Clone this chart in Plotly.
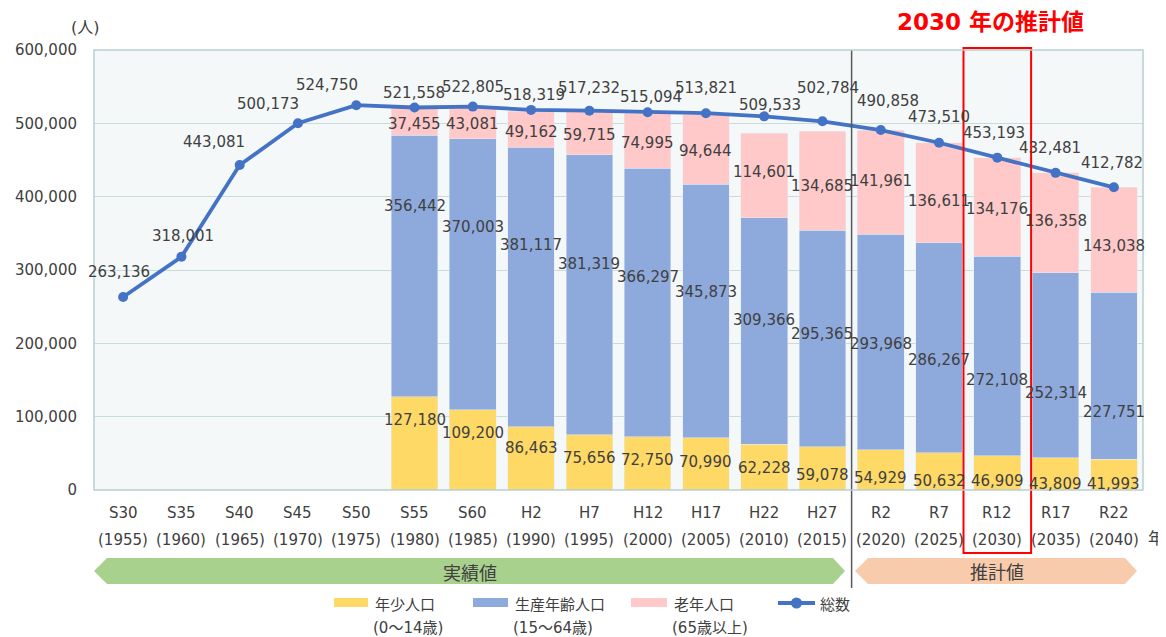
import plotly.graph_objects as go

# ---------------- data ----------------
categories = ["S30", "S35", "S40", "S45", "S50", "S55", "S60", "H2", "H7", "H12",
              "H17", "H22", "H27", "R2", "R7", "R12", "R17", "R22"]
years = ["(1955)", "(1960)", "(1965)", "(1970)", "(1975)", "(1980)", "(1985)", "(1990)",
         "(1995)", "(2000)", "(2005)", "(2010)", "(2015)", "(2020)", "(2025)", "(2030)",
         "(2035)", "(2040)"]
young = [None] * 5 + [127180, 109200, 86463, 75656, 72750, 70990, 62228, 59078,
                      54929, 50632, 46909, 43809, 41993]
working = [None] * 5 + [356442, 370003, 381117, 381319, 366297, 345873, 309366, 295365,
                        293968, 286267, 272108, 252314, 227751]
elderly = [None] * 5 + [37455, 43081, 49162, 59715, 74995, 94644, 114601, 134685,
                        141961, 136611, 134176, 136358, 143038]
total = [263136, 318001, 443081, 500173, 524750, 521558, 522805, 518319, 517232, 515094,
         513821, 509533, 502784, 490858, 473510, 453193, 432481, 412782]

# label placement (data units)
total_label_y = [297e3, 346e3, 474e3, 526e3, 552e3, 541e3, 549e3, 538e3, 548e3, 536e3,
                 548e3, 525e3, 548e3, 530e3, 509e3, 487e3, 466e3, 446e3]
total_label_dx = [-4, 2, -26, -30, -29, -1, 0, 3, 0, 3, 0, 6, 6, 7, 0, -3, -6, -2]
elderly_label_y = [None] * 5 + [499e3, 499e3, 488e3, 484e3, 473e3, 462e3, 434e3, 415e3,
                                421e3, 394e3, 383e3, 367e3, 333e3]
working_label_y = [None] * 5 + [387e3, 359e3, 334e3, 308e3, 290e3, 270e3, 232e3, 213e3,
                                199e3, 177e3, 150e3, 132e3, 106e3]
young_label_y = [None] * 5 + [95e3, 78e3, 57e3, 44e3, 41e3, 38e3, 30e3, 20e3,
                              16e3, 12e3, 12e3, 8e3, 8e3]

C_YOUNG = "#ffd966"
C_WORK = "#8eaadc"
C_OLD = "#ffc9c9"
C_LINE = "#4472c4"
TXT = "#404040"
NFONT = "DejaVu Sans"
JFONT = "Noto Sans CJK JP"
MFONT = NFONT + ", " + JFONT

W, H = 1166, 637
# on-screen plot area (page body adds an 8px offset)
SX0, SY0 = 94, 50
PW, PH = 1049, 440
OFF = 8
L, T = SX0 - OFF, SY0 - OFF
R, B = W - L - PW, H - T - PH


def pxx(x):
    return (x - SX0) / PW


def pxy(y):
    return (SY0 + PH - y) / PH


fig = go.Figure()
fig.add_trace(go.Bar(x=categories, y=young, marker_color=C_YOUNG, name="年少人口"))
fig.add_trace(go.Bar(x=categories, y=working, marker_color=C_WORK, name="生産年齢人口"))
fig.add_trace(go.Bar(x=categories, y=elderly, marker_color=C_OLD, name="老年人口"))
fig.add_trace(go.Scatter(x=categories, y=total, mode="lines+markers", name="総数",
                         line=dict(color=C_LINE, width=3.8),
                         marker=dict(color=C_LINE, size=10)))

ann = []


def fmt(v):
    return f"{v:,}"


def pa(x, y, text, size=15, family=JFONT, xanchor="center", color=TXT):
    return dict(x=pxx(x), y=pxy(y), xref="paper", yref="paper", text=text,
                showarrow=False, xanchor=xanchor, yanchor="middle",
                font=dict(size=size, color=color, family=family))


for i, c in enumerate(categories):
    ann.append(dict(x=c, y=total_label_y[i], text=fmt(total[i]), showarrow=False,
                    xanchor="center", yanchor="middle",
                    xshift=total_label_dx[i], font=dict(size=15, color=TXT, family=NFONT)))
    for vals, ly in ((young, young_label_y), (working, working_label_y), (elderly, elderly_label_y)):
        if vals[i] is not None:
            ann.append(dict(x=c, y=ly[i], text=fmt(vals[i]), showarrow=False,
                            xanchor="center", yanchor="middle",
                            font=dict(size=15, color=TXT, family=NFONT)))
    # two-line category labels
    ann.append(dict(x=c, y=pxy(513), yref="paper", text=c, showarrow=False,
                    xanchor="center", yanchor="middle",
                    font=dict(size=15, color=TXT, family=NFONT)))
    ann.append(dict(x=c, y=pxy(540), yref="paper", text=years[i], showarrow=False,
                    xanchor="center", yanchor="middle",
                    font=dict(size=15, color=TXT, family=NFONT)))

ann += [
    pa(85, 27, "(人)", size=16, family=MFONT),
    pa(1156, 537, "年", size=16),
    pa(990, 22, "<b>2030 年の推計値</b>", size=23, family=MFONT, color="#ff0000"),
    pa(470, 572, "実績値", size=18),
    pa(997, 571, "推計値", size=18),
]

# legend (custom)
leg_items = [(334, 368, C_YOUNG, "年少人口", "(0〜14歳)"),
             (473, 508, C_WORK, "生産年齢人口", "(15〜64歳)"),
             (631, 667, C_OLD, "老年人口", "(65歳以上)")]
shapes = []
for x0, x1, col, t1, t2 in leg_items:
    shapes.append(dict(type="rect", xref="paper", yref="paper", x0=pxx(x0), x1=pxx(x1),
                       y0=pxy(607), y1=pxy(598), fillcolor=col, line=dict(width=0)))
    ann.append(pa(x1 + 5, 603, t1, size=15))
    ann[-1]["xanchor"] = "left"
    ann.append(pa(x1 + 3, 628, t2, size=15, family=MFONT))
    ann[-1]["xanchor"] = "left"
shapes.append(dict(type="line", xref="paper", yref="paper", x0=pxx(778), x1=pxx(815),
                   y0=pxy(603), y1=pxy(603), line=dict(color=C_LINE, width=3.8)))
shapes.append(dict(type="circle", xref="paper", yref="paper", x0=pxx(791), x1=pxx(802),
                   y0=pxy(608.5), y1=pxy(597.5), fillcolor=C_LINE, line=dict(width=0)))
ann.append(pa(818, 603, "総数", xanchor="left"))


def poly(pts):
    return "M " + " L ".join(f"{pxx(a)},{pxy(b)}" for a, b in pts) + " Z"


# arrows
shapes.append(dict(type="path", xref="paper", yref="paper",
                   path=poly([(94, 571), (107, 558), (833, 558), (845, 571), (833, 584), (107, 584)]),
                   fillcolor="#a9d18e", line=dict(width=0)))
shapes.append(dict(type="path", xref="paper", yref="paper",
                   path=poly([(855, 571), (868, 558), (1125, 558), (1137, 571), (1125, 584), (868, 584)]),
                   fillcolor="#f8cbad", line=dict(width=0)))
# separator line
shapes.append(dict(type="line", xref="x", yref="paper", x0=12.5, x1=12.5, y0=pxy(588), y1=1,
                   line=dict(color="#595959", width=1.5)))
# red box
shapes.append(dict(type="rect", xref="x", yref="paper", x0=14.42, x1=15.58,
                   y0=pxy(553), y1=pxy(48), line=dict(color="#ff0000", width=2),
                   fillcolor="rgba(0,0,0,0)"))
# plot frame
shapes.append(dict(type="rect", xref="paper", yref="paper", x0=0, x1=1, y0=0, y1=1,
                   line=dict(color="#b8cfd1", width=1.5), layer="above"))

fig.update_layout(
    width=W, height=H, barmode="stack", bargap=0.2, showlegend=False,
    margin=dict(l=L, r=R, t=T, b=B, autoexpand=False),
    paper_bgcolor="white", plot_bgcolor="#f4f8f9",
    font=dict(family=NFONT, size=15, color=TXT),
    annotations=ann, shapes=shapes,
    xaxis=dict(type="category", range=[-0.5, 17.5], showticklabels=False, showgrid=False,
               zeroline=False, automargin=False),
    yaxis=dict(range=[0, 600000], dtick=100000, tickformat=",", showgrid=True,
               gridcolor="#c8dcdc", gridwidth=1, zeroline=False, ticks="", automargin=False,
               tickfont=dict(size=15, color=TXT, family=NFONT), ticklabelstandoff=16),
)

fig.write_html("out.html")
